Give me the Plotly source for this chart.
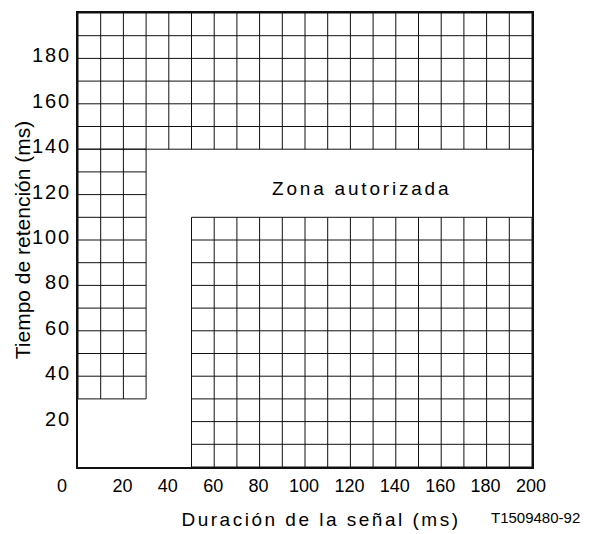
import plotly.graph_objects as go

# Grid step (ms) of the hatched (non-authorised) zones
grid_step = 10

# Hatched zones: x range (signal duration, ms) and y range (hold time, ms)
zone_x0 = [0, 0, 50]
zone_x1 = [200, 30, 200]
zone_y0 = [140, 30, 0]
zone_y1 = [200, 140, 110]

# Axis ticks
x_tick_vals = [20, 40, 60, 80, 100, 120, 140, 160, 180, 200]
x_tick_text = ["20", "40", "60", "80", "100", "120", "140", "160", "180", "200"]
y_tick_vals = [20, 40, 60, 80, 100, 120, 140, 160, 180]
y_tick_text = ["20", "40", "60", "80", "100", "120", "140", "160", "180"]

x_title = "Duración de la señal (ms)"
y_title = "Tiempo de retención (ms)"
zone_label = "Zona autorizada"
figure_code = "T1509480-92"

FONT = "Liberation Sans, Arial, sans-serif"

fig = go.Figure()

for x0, x1, y0, y1 in zip(zone_x0, zone_x1, zone_y0, zone_y1):
    xs, ys = [], []
    for gx in range(x0, x1 + 1, grid_step):
        xs += [gx, gx, None]
        ys += [y0, y1, None]
    for gy in range(y0, y1 + 1, grid_step):
        xs += [x0, x1, None]
        ys += [gy, gy, None]
    fig.add_trace(go.Scatter(x=xs, y=ys, mode="lines",
                             line=dict(color="#111111", width=1),
                             hoverinfo="skip", showlegend=False,
                             cliponaxis=False))

fig.update_layout(
    width=598, height=534,
    margin=dict(l=78, r=66, t=13, b=67, autoexpand=False),
    paper_bgcolor="white", plot_bgcolor="white",
    font=dict(family=FONT, color="black"),
    showlegend=False,
    xaxis=dict(range=[0, 200], showgrid=False, zeroline=False, automargin=False,
               showline=True, mirror=True, linecolor="#111111", linewidth=1.5,
               tickvals=x_tick_vals, ticktext=x_tick_text, ticks="",
               tickfont=dict(family=FONT, size=18, color="black"),
               ticklabelshift=-1, ticklabelstandoff=2,
               title=dict(text=x_title, standoff=17,
                          font=dict(family=FONT, size=19, color="black"))),
    yaxis=dict(range=[0, 200], showgrid=False, zeroline=False, automargin=False,
               showline=True, mirror=True, linecolor="#111111", linewidth=1.5,
               tickvals=y_tick_vals, ticktext=y_tick_text, ticks="",
               tickfont=dict(family=FONT, size=20, color="black"),
               ticklabelshift=-3, ticklabelstandoff=1,
               title=dict(text=y_title, standoff=2,
                          font=dict(family=FONT, size=21, color="black"))),
    annotations=[
        dict(text=zone_label, x=125.3, y=122.5, xref="x", yref="y",
             showarrow=False, font=dict(family=FONT, size=19, color="black")),
        dict(text="0", x=0, y=0, xref="x", yref="y", xshift=-16, yshift=-18.5,
             showarrow=False, font=dict(family=FONT, size=18, color="black")),
        dict(text=figure_code, x=1.0088, y=-0.1123, xref="paper", yref="paper",
             xanchor="center", yanchor="middle",
             showarrow=False, font=dict(family=FONT, size=15, color="black")),
    ],
)

post = """
var s = document.createElement('style');
s.textContent = 'html,body{margin:0;padding:0;overflow:hidden;} ' +
  '.xtitle{letter-spacing:2.5px; transform: translate(16px,0px);} ' +
  '.ytick text{letter-spacing:2px;} ' +
  'g.annotation[data-index="0"] text{letter-spacing:2.8px;}';
document.head.appendChild(s);
"""

fig.write_html("out.html", post_script=post, config={"displayModeBar": False})
